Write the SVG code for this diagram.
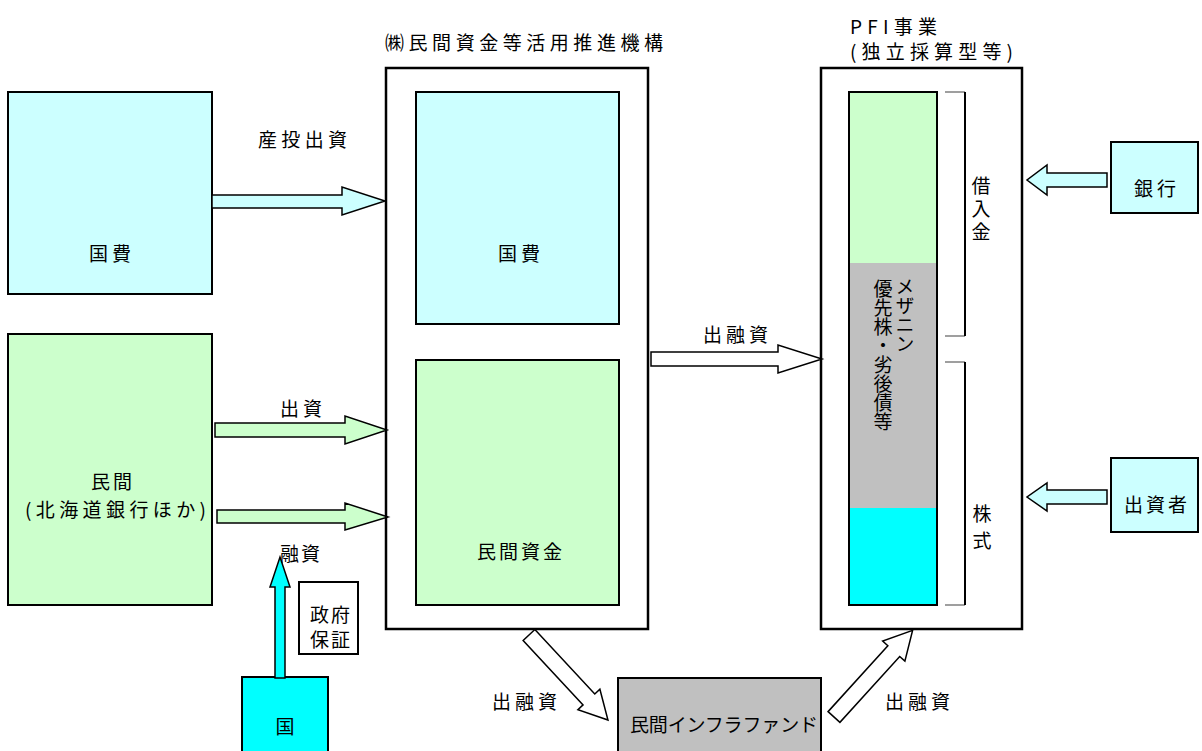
<svg xmlns="http://www.w3.org/2000/svg" width="1202" height="751" viewBox="0 0 1202 751">
<style>
text{font-family:"Noto Sans CJK JP","Noto Sans",sans-serif;font-size:19px;fill:#000;dominant-baseline:central}
.c{text-anchor:middle}
.v{writing-mode:vertical-rl}
.box{stroke:#000;stroke-width:2}
.outer{fill:#fff;stroke:#000;stroke-width:2.5}
.arr{stroke:#000;stroke-width:1.5;stroke-linejoin:miter}
.cyanL{fill:#CCFFFF}
.greenL{fill:#CCFFCC}
.gray{fill:#C0C0C0}
.cyan{fill:#00FFFF}
.white{fill:#fff}
</style>
<rect width="1202" height="751" fill="#fff"/>

<g id="left-kokuhi"><rect class="box cyanL" x="8" y="92" width="204" height="202"/><text class="c" x="112" y="252" letter-spacing="4">国費</text></g>
<g id="left-minkan"><rect class="box greenL" x="8" y="334" width="204" height="271"/><text class="c" x="113" y="480" letter-spacing="3">民間</text><text x="25" y="508" textLength="181" lengthAdjust="spacing">(北海道銀行ほか)</text></g>

<g id="kikou">
<text x="385" y="41" textLength="278" lengthAdjust="spacing">㈱民間資金等活用推進機構</text>
<rect class="outer" x="386" y="68" width="262" height="561"/>
<rect class="box cyanL" x="416" y="92" width="203" height="232"/>
<text class="c" x="521" y="252" letter-spacing="4">国費</text>
<rect class="box greenL" x="416" y="360" width="203" height="245"/>
<text class="c" x="521" y="550" letter-spacing="3">民間資金</text>
</g>

<g id="pfi">
<text x="850" y="25" font-size="16" textLength="87" lengthAdjust="spacing">PFI事業</text>
<text x="850" y="50" font-size="17" textLength="163" lengthAdjust="spacing">(独立採算型等)</text>
<rect class="outer" x="821" y="68" width="201" height="561"/>
<rect class="greenL" x="849" y="92" width="88" height="171"/>
<rect class="gray" x="849" y="263" width="88" height="245"/>
<rect class="cyan" x="849" y="508" width="88" height="97"/>
<rect x="849" y="92" width="88" height="513" fill="none" stroke="#000" stroke-width="2"/>
<text class="v" x="905" y="277" font-size="19">メザニン</text>
<text class="v" x="883" y="279" font-size="19">優先株・劣後債等</text>
<path d="M945,92 H965 M945,336 H965 M945,362 H965 M945,605 H965" stroke="#808080" stroke-width="1.5" fill="none"/>
<path d="M965,92 V336 M965,362 V605" stroke="#000" stroke-width="2" fill="none"/>
<text class="v" x="981" y="176" font-size="20" letter-spacing="4">借入金</text>
<text class="v" x="982" y="504" font-size="19" letter-spacing="8">株式</text>
</g>

<g id="ginkou"><rect class="box cyanL" x="1111" y="142" width="87" height="71"/><text class="c" x="1157" y="187" letter-spacing="4">銀行</text></g>
<g id="shusshisha"><rect class="box cyanL" x="1111" y="458" width="87" height="74"/><text class="c" x="1157" y="503" letter-spacing="3">出資者</text></g>

<g id="seifuhosho"><rect class="box white" x="299" y="582" width="59" height="72"/><text class="c" x="331" y="613" letter-spacing="2">政府</text><text class="c" x="331" y="638" letter-spacing="2">保証</text></g>
<g id="kuni"><rect class="box cyan" x="242" y="677" width="86" height="90"/><text class="c" x="285" y="725">国</text></g>
<g id="fund"><rect class="box gray" x="618" y="678" width="203" height="90"/><text x="630" y="723" font-size="18.5" textLength="188" lengthAdjust="spacing">民間インフラファンド</text></g>

<g id="connectors">
<polygon class="arr cyanL" points="212,195 342,195 342,187 385,201 342,215 342,208 212,208"/>
<text x="258" y="138" textLength="89" lengthAdjust="spacing">産投出資</text>
<polygon class="arr greenL" points="215,423 345,423 345,416 387,430 345,444 345,437 215,437"/>
<text x="280" y="407" textLength="42" lengthAdjust="spacing">出資</text>
<polygon class="arr greenL" points="217,510 345,510 345,503 388,517 345,530 345,523 217,523"/>
<polygon class="arr cyan" points="275,678 275,587 270,587 280,557 290,587 285,587 285,678"/>
<text x="280" y="552" textLength="40" lengthAdjust="spacing">融資</text>
<polygon class="arr white" points="651,352 778,352 778,345 822,359 778,373 778,366 651,366"/>
<text x="703" y="333" textLength="65" lengthAdjust="spacing">出融資</text>
<polygon class="arr cyanL" points="1107,173 1047,173 1047,165 1027,180 1047,195 1047,187 1107,187"/>
<polygon class="arr cyanL" points="1107,490 1047,490 1047,483 1027,497 1047,511 1047,504 1107,504"/>
<polygon class="arr white" transform="translate(529,635) rotate(47.1)" points="0,-8 88,-8 88,-15 116,0 88,15 88,8 0,8"/>
<text x="492" y="700" textLength="65" lengthAdjust="spacing">出融資</text>
<polygon class="arr white" transform="translate(834,717) rotate(-47.8)" points="0,-8 89,-8 89,-15 117,0 89,15 89,8 0,8"/>
<text x="885" y="700" textLength="65" lengthAdjust="spacing">出融資</text>
</g>
</svg>
